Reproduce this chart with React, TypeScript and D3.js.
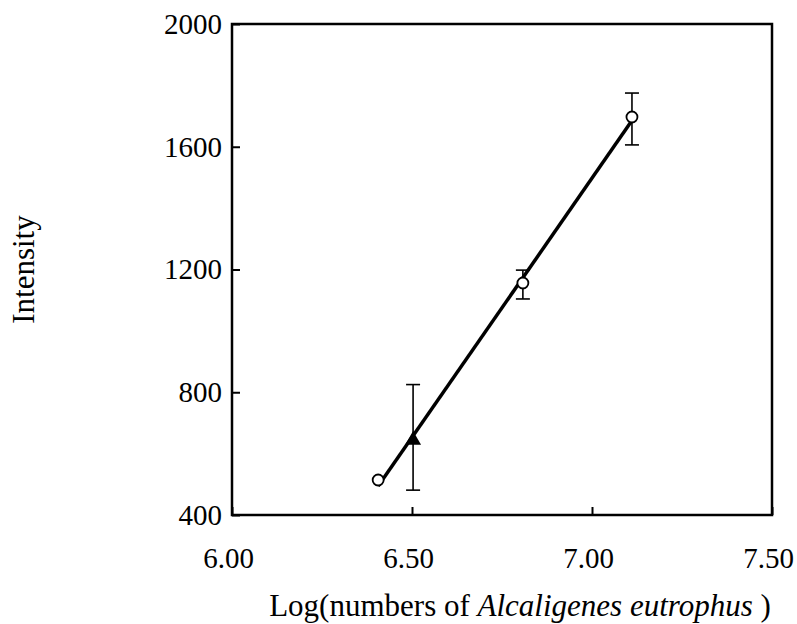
import React, { useEffect, useRef } from "react";
import * as d3 from "d3";

// data
const logCounts = [6.406, 6.503, 6.808, 7.111];
const intensity = [514, 644, 1156, 1697];
const errLow = [514, 481, 1104, 1606];
const errHigh = [514, 825, 1198, 1775];
const markers = ["circle", "triangle", "circle", "circle"];

const xTicks = [6.0, 6.5, 7.0, 7.5];
const yTicks = [400, 800, 1200, 1600, 2000];

const W = 797;
const H = 624;
const margin = { top: 24, right: 25, bottom: 109, left: 232 };

const App = () => {
  const svgRef = useRef<SVGSVGElement>(null);

  useEffect(() => {
    const svg = d3.select(svgRef.current);
    svg.selectAll("*").remove();

    const x = d3.scaleLinear().domain([6, 7.5]).range([margin.left, W - margin.right]);
    const y = d3.scaleLinear().domain([400, 2000]).range([H - margin.bottom, margin.top]);

    const font = "'Liberation Serif', 'Times New Roman', serif";

    // axes
    const xAxis = d3.axisBottom(x).tickValues(xTicks).tickFormat(d3.format(".2f")).tickSizeInner(-8).tickSizeOuter(0).tickPadding(32);
    const yAxis = d3.axisLeft(y).tickValues(yTicks).tickFormat(d3.format("d")).tickSizeInner(-8).tickSizeOuter(0).tickPadding(10);

    const gx = svg.append("g").attr("transform", `translate(0,${H - margin.bottom})`).call(xAxis);
    const gy = svg.append("g").attr("transform", `translate(${margin.left},0)`).call(yAxis);
    [gx, gy].forEach(g => {
      g.select(".domain").remove();
      g.selectAll("line").attr("stroke", "#000").attr("stroke-width", 2);
      g.selectAll("text").attr("fill", "#000").style("font-family", font).style("font-size", "29px");
    });
    gx.selectAll("text").attr("dx", -4);

    // frame
    svg.append("rect")
      .attr("x", x(6)).attr("y", y(2000))
      .attr("width", x(7.5) - x(6)).attr("height", y(400) - y(2000))
      .attr("fill", "none").attr("stroke", "#000").attr("stroke-width", 2.5);

    // regression line
    const mx = d3.mean(logCounts)!;
    const my = d3.mean(intensity)!;
    const slope = d3.sum(logCounts, (v, i) => (v - mx) * (intensity[i] - my)) / d3.sum(logCounts, v => (v - mx) ** 2);
    const fit = (v: number) => my + slope * (v - mx);
    const x0 = d3.min(logCounts)!;
    const x1 = d3.max(logCounts)!;
    svg.append("line")
      .attr("x1", x(x0)).attr("y1", y(fit(x0)))
      .attr("x2", x(x1)).attr("y2", y(fit(x1)))
      .attr("stroke", "#000").attr("stroke-width", 3.5);

    // error bars
    const eb = svg.append("g").attr("stroke", "#000").attr("stroke-width", 1.6);
    logCounts.forEach((v, i) => {
      if (errHigh[i] === errLow[i]) return;
      const cx = x(v);
      eb.append("line").attr("x1", cx).attr("x2", cx).attr("y1", y(errLow[i])).attr("y2", y(errHigh[i]));
      eb.append("line").attr("x1", cx - 7).attr("x2", cx + 7).attr("y1", y(errLow[i])).attr("y2", y(errLow[i]));
      eb.append("line").attr("x1", cx - 7).attr("x2", cx + 7).attr("y1", y(errHigh[i])).attr("y2", y(errHigh[i]));
    });

    // markers
    logCounts.forEach((v, i) => {
      if (markers[i] === "triangle") {
        svg.append("path")
          .attr("d", d3.symbol(d3.symbolTriangle, 110)())
          .attr("transform", `translate(${x(v)},${y(intensity[i])})`)
          .attr("fill", "#000");
      } else {
        svg.append("circle")
          .attr("cx", x(v)).attr("cy", y(intensity[i])).attr("r", 5.5)
          .attr("fill", "#fff").attr("stroke", "#000").attr("stroke-width", 1.8);
      }
    });

    // axis titles
    const xt = svg.append("text")
      .attr("x", (x(6) + x(7.5)) / 2 + 18).attr("y", 616)
      .attr("text-anchor", "middle")
      .style("font-family", font).style("font-size", "31px").attr("fill", "#000");
    xt.append("tspan").text("Log(numbers of ");
    xt.append("tspan").style("font-style", "italic").text("Alcaligenes eutrophus");
    xt.append("tspan").text(" )");

    svg.append("text")
      .attr("transform", `translate(34,${(y(400) + y(2000)) / 2}) rotate(-90)`)
      .attr("text-anchor", "middle")
      .style("font-family", font).style("font-size", "31px").attr("fill", "#000")
      .text("Intensity");
  }, []);

  return (
    <svg ref={svgRef} width={W} height={H} style={{ position: "absolute", left: 0, top: 0, background: "#fff" }} />
  );
};

export default App;
